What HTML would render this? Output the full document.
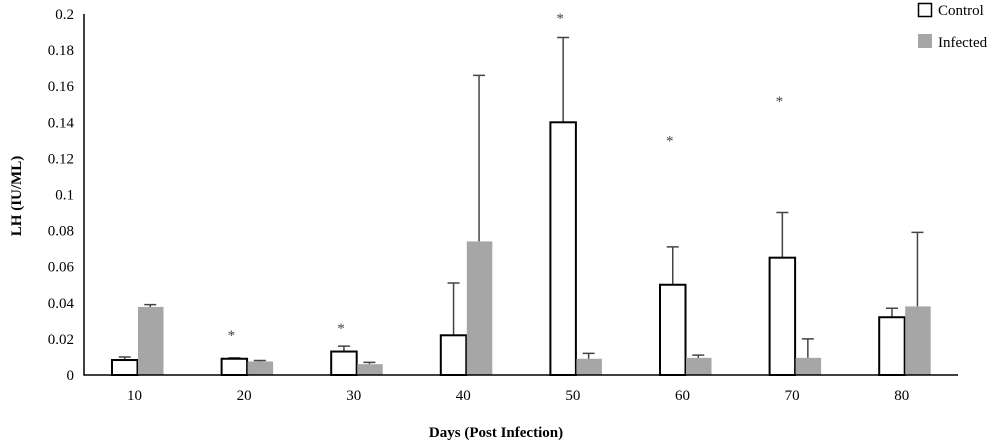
<!DOCTYPE html>
<html><head><meta charset="utf-8"><style>
body{margin:0;background:#fff}
svg{font-family:"Liberation Serif",serif}
</style></head><body>
<svg id="chart" width="1000" height="440" xmlns="http://www.w3.org/2000/svg">
<g id="plot"></g>
<text transform="translate(21,196) rotate(-90)" text-anchor="middle" font-size="15" font-weight="bold">LH (IU/ML)</text>
<text x="496" y="437" text-anchor="middle" font-size="15" font-weight="bold">Days (Post Infection)</text>
<g>
<rect x="918.5" y="3.5" width="13" height="13" fill="#fff" stroke="#000" stroke-width="1.5"/>
<text x="938" y="15" font-size="15">Control</text>
<rect x="918" y="34" width="14" height="14" fill="#a6a6a6"/>
<text x="938" y="47" font-size="15">Infected</text>
</g>
</svg>
<script>
const categories=["10","20","30","40","50","60","70","80"];
const controlValues=[0.0083,0.009,0.013,0.022,0.14,0.05,0.065,0.032];
const controlErr=[0.01,0.0095,0.016,0.051,0.187,0.071,0.09,0.037];
const infectedValues=[0.0377,0.0075,0.006,0.074,0.009,0.0095,0.0095,0.038];
const infectedErr=[0.039,0.008,0.007,0.166,0.012,0.011,0.02,0.079];
const starValues=[null,0.0244,0.0283,null,0.2,0.132,0.154,null];
const yTicks=[0,0.02,0.04,0.06,0.08,0.1,0.12,0.14,0.16,0.18,0.2];
const yTickLabels=["0","0.02","0.04","0.06","0.08","0.1","0.12","0.14","0.16","0.18","0.2"];
const NS="http://www.w3.org/2000/svg";
const g=document.getElementById('plot');
const y0=375,yTop=14,x0=84,step=109.6,first=137.5,bw=25.5;
const y=v=>y0-(v/0.2)*(y0-yTop);
const xc=i=>first+i*step;
function mk(t,a){const e=document.createElementNS(NS,t);for(const k in a)e.setAttribute(k,a[k]);g.appendChild(e);return e;}
yTicks.forEach((v,i)=>{const t=mk('text',{x:74,y:y(v)+5,'text-anchor':'end','font-size':15});t.textContent=yTickLabels[i];

});
categories.forEach((c,i)=>{const cx=xc(i);
function err(x,v,e){const l=mk('path',{d:`M${x} ${y(v)}V${y(e)}M${x-6} ${y(e)}H${x+6}`,stroke:'#444','stroke-width':1.5,fill:'none'});

}
err(cx-bw/2,controlValues[i],controlErr[i]);
err(cx+bw/2,infectedValues[i],infectedErr[i]);
const r1=mk('rect',{x:cx-bw,y:y(controlValues[i]),width:bw,height:y0-y(controlValues[i]),fill:'#fff',stroke:'#000','stroke-width':2});


const r2=mk('rect',{x:cx+0.5,y:y(infectedValues[i]),width:bw,height:y0-y(infectedValues[i]),fill:'#a6a6a6'});


if(starValues[i]!==null){const s=mk('text',{x:cx-bw/2-3,y:y(starValues[i])+9,'text-anchor':'middle','font-size':15,fill:'#444'});s.textContent='*';

}
const t=mk('text',{x:cx-3,y:400,'text-anchor':'middle','font-size':15});t.textContent=c;


});
const ax=mk('path',{d:`M${x0} ${yTop}V${y0}H958`,stroke:'#000','stroke-width':1.5,fill:'none'});


</script>
</body></html>
